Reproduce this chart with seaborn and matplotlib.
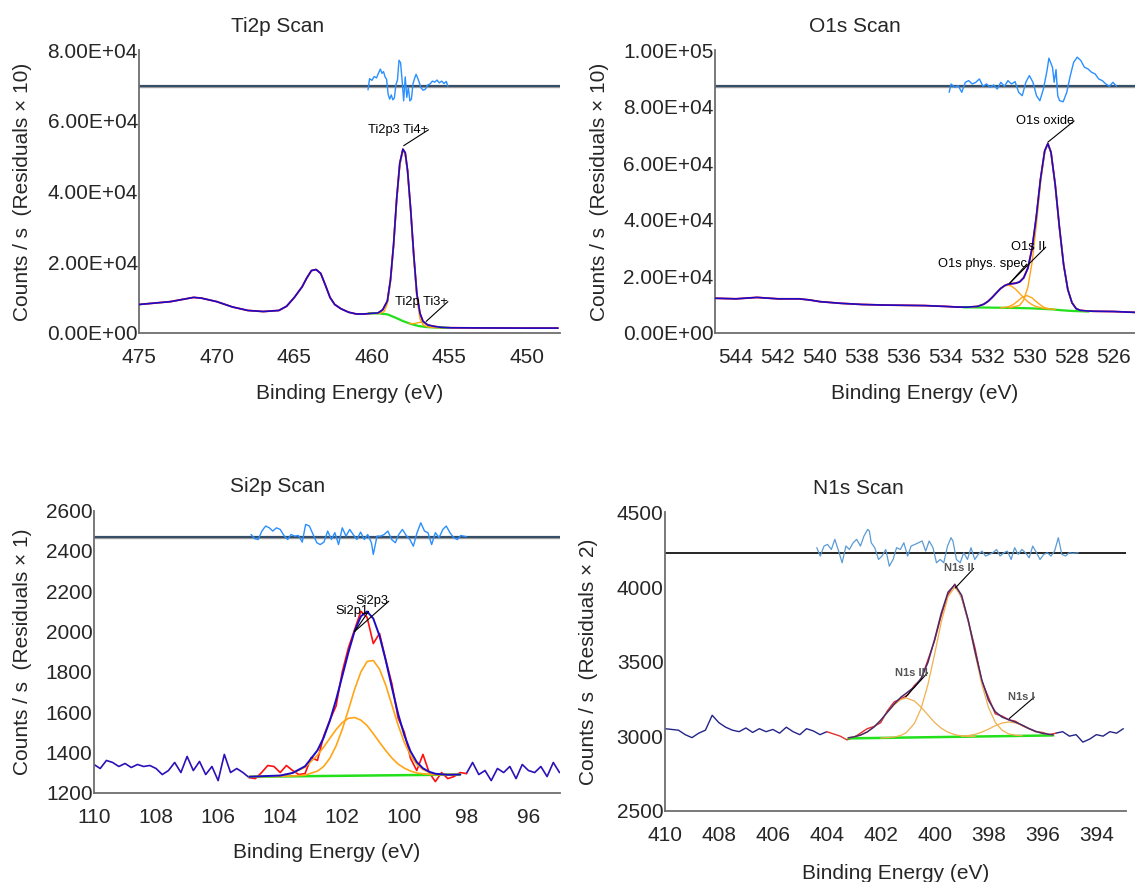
import numpy as np
import matplotlib
matplotlib.use("Agg")
import matplotlib.pyplot as plt
from matplotlib.ticker import MultipleLocator, FuncFormatter
import seaborn as sns

sns.set_theme(style="white")
plt.rcParams['font.family'] = ['Liberation Sans', 'DejaVu Sans']

# ---------------- Ti2p ----------------
ti_be = [475, 474, 473, 472, 471.5, 471, 470, 469, 468, 467, 466, 465.5, 465, 464.5, 464.2, 463.9,
         463.6, 463.3, 463, 462.7, 462.4, 462, 461.5, 461, 460.5, 460, 459.6, 459.3, 459, 458.8,
         458.6, 458.4, 458.2, 458.0, 457.85, 457.7, 457.5, 457.3, 457.1, 456.9, 456.7, 456.4, 456,
         455.5, 455, 453, 450, 448]
ti_cps = [8000, 8400, 8800, 9600, 10000, 9800, 8800, 7300, 6300, 6000, 6300, 7500, 10000, 13000, 15500,
          17600, 17900, 16800, 13500, 10000, 8000, 6800, 5800, 5300, 5300, 5500, 5600, 6500, 9000, 15000,
          25000, 38000, 48000, 52000, 51000, 46000, 35000, 22000, 11000, 5500, 3200, 2200, 1800,
          1500, 1400, 1350, 1300, 1300]
ti_bg_be = [460.2, 459.5, 459.0, 458.5, 458.0, 457.5, 457.0, 456.5, 456.0, 455.5, 455.0]
ti_bg = [5500, 5450, 5200, 4300, 3300, 2500, 1900, 1600, 1480, 1420, 1380]
ti4_be = [460.2, 459.5, 459.2, 459.0, 458.8, 458.6, 458.4, 458.2, 458.0, 457.85, 457.7, 457.5, 457.3,
          457.1, 456.9, 456.7, 456.5, 456.2, 455.8, 455.4, 455.0]
ti4 = [5500, 5450, 6000, 8300, 14200, 24200, 37300, 47300, 51500, 50500, 45500, 34300, 21000,
       9800, 4000, 2200, 1750, 1550, 1450, 1400, 1380]
ti3_be = [457.6, 457.4, 457.2, 457.0, 456.8, 456.6, 456.4, 456.2, 456.0, 455.7]
ti3 = [2700, 2540, 2640, 2860, 2980, 2650, 2110, 1720, 1515, 1460]
ti_res_be = [460.25, 460.15, 460.0, 459.85, 459.7, 459.55, 459.45, 459.35, 459.25, 459.15, 459.05,
             458.95, 458.85, 458.75, 458.65, 458.55, 458.45, 458.35, 458.25, 458.15, 458.05,
             457.95, 457.85, 457.75, 457.65, 457.55, 457.45, 457.35, 457.25, 457.15, 457.05,
             456.95, 456.85, 456.7, 456.55, 456.4, 456.25, 456.1, 455.95, 455.8, 455.65, 455.5,
             455.35, 455.2, 455.1]
ti_res = [-1200, 2000, 1500, 2600, 2200, 3800, 4700, 3500, 4000, 2500, 1800,
          -2500, -3800, -2600, -4000, -3500, 300, 1600, 7200, 6500, 1500,
          -4300, 2500, -3300, -500, -4300, -3800, 500, 2000, 3200, 2200,
          1000, -500, -1300, -1000, 200, 500, 1300, 1000, 1600, 800, 1300, 600, 1200, -200]
ti_res_zero = 70000
ti_xticks = [475, 470, 465, 460, 455, 450]
ti_yticks = [0, 20000, 40000, 60000, 80000]

# ---------------- O1s ----------------
o_be = [545, 544, 543, 542, 541, 540.5, 540, 539, 538, 537, 536, 535, 534, 533.5, 533.0,
        532.5, 532.2, 532.0, 531.8, 531.6, 531.4, 531.2, 531.05, 530.9, 530.7, 530.5, 530.3,
        530.1, 529.9, 529.7, 529.5, 529.3, 529.15, 529.0, 528.8, 528.6, 528.4, 528.2, 528.0,
        527.8, 527.6, 527.3, 527.0, 526.0, 525.0]
o_cps = [12200, 12000, 12500, 12000, 12000, 11600, 11000, 10400, 10000, 9800, 9700, 9600, 9300, 9100,
         9050, 9300, 10100, 11100, 12500, 14100, 15650, 16700, 17150, 17330, 17500, 17960, 19450,
         22900, 29900, 41000, 54400, 64400, 67000, 63900, 52450, 37400, 24150, 15300, 10600,
         8500, 7900, 7700, 7600, 7500, 7200]
o_bg_be = [533.2, 532, 531, 530, 529, 528.5, 528, 527.2]
o_bg = [9000, 8900, 8800, 8650, 8300, 7950, 7700, 7500]
o_ox_be = [531.0, 530.5, 530.3, 530.1, 529.9, 529.7, 529.5, 529.3, 529.15, 529.0, 528.8, 528.6,
           528.4, 528.2, 528.0, 527.8, 527.6, 527.2]
o_ox = [8800, 9630, 11600, 16150, 24950, 38000, 52900, 63950, 66850, 63900, 52450, 37400,
        24150, 15300, 10600, 8580, 7850, 7500]
o_ph_be = [532.8, 532.5, 532.2, 532.0, 531.8, 531.6, 531.4, 531.2, 531.05, 530.9, 530.7, 530.5,
           530.3, 530.1, 529.9, 529.7, 529.4, 529.1]
o_ph = [8950, 9300, 10100, 11100, 12500, 14100, 15550, 16550, 16800, 16550, 15500, 13960,
        12360, 10930, 9920, 9240, 8700, 8400]
o_ii_be = [531.4, 531.2, 531.0, 530.8, 530.6, 530.4, 530.15, 529.9, 529.7, 529.5, 529.3, 529.0, 528.8]
o_ii = [8830, 8950, 9270, 9950, 11090, 12400, 13150, 12350, 10990, 9800, 8820, 8400, 8200]
o_res_be = [533.85, 533.76, 533.59, 533.42, 533.25, 533.08, 532.92, 532.75, 532.58, 532.41,
            532.24, 532.07, 531.90, 531.73, 531.56, 531.39, 531.22, 531.05, 530.88, 530.71,
            530.54, 530.37, 530.20, 530.03, 529.86, 529.69, 529.53, 529.36, 529.19, 529.10,
            528.93, 528.85, 528.76, 528.68, 528.59, 528.42, 528.25, 528.08, 527.92, 527.75,
            527.58, 527.41, 527.24, 527.07, 526.90, 526.73, 526.56, 526.39, 526.22, 526.05, 525.88]
o_res = [-2250, 710, -470, 120, -2250, 1300, 1900, 710, 1300, 2490,
         -120, 710, -470, 360, -1070, 1300, -120, 1900, 710, 1540,
         -2250, -3440, 1300, 3680, 1300, -3440, -5220, -1070, 5460, 9850,
         6640, 1300, 5810, -3440, -5220, -5580, -2250, 3680, 8420, 10200,
         9020, 6640, 6050, 4860, 4270, 2490, 1900, 710, -120, 1300, -120]
o_res_zero = 87400
o_xticks = [544, 542, 540, 538, 536, 534, 532, 530, 528, 526]
o_yticks = [0, 20000, 40000, 60000, 80000, 100000]

# ---------------- Si2p ----------------
si_be = np.round(np.arange(110.0, 94.99, -0.2), 1)   # instrument step 0.2 eV
si_cps = [1340, 1320, 1360, 1350, 1330, 1345, 1325, 1340, 1330, 1335,
          1320, 1290, 1310, 1350, 1300, 1380, 1310, 1355, 1290, 1330,
          1260, 1390, 1300, 1320, 1300, 1275, 1270, 1300, 1335, 1330,
          1300, 1335, 1310, 1290, 1295, 1375, 1360, 1480, 1560, 1630,
          1800, 1920, 2010, 2100, 2070, 1940, 1990, 1860, 1740, 1570,
          1500, 1370, 1310, 1390, 1300, 1255, 1300, 1270, 1280, 1300,
          1295, 1350, 1290, 1310, 1260, 1320, 1300, 1330, 1270, 1340,
          1310, 1300, 1330, 1280, 1350, 1300]
si_fit_be = [105.0, 104.4, 104.0, 103.6, 103.2, 102.8, 102.6, 102.4, 102.2, 102.0, 101.8, 101.6,
             101.4, 101.2, 101.0, 100.8, 100.6, 100.4, 100.2, 100.0, 99.8, 99.6, 99.4, 99.2,
             99.0, 98.6, 98.2]
si_fit = [1279, 1283, 1285, 1298, 1331, 1410, 1473, 1557, 1661, 1778, 1897, 2003, 2075, 2099,
          2064, 1978, 1857, 1721, 1591, 1485, 1405, 1352, 1321, 1304, 1294, 1289, 1290]
si_p3 = [1279, 1281, 1281, 1283, 1287, 1307, 1330, 1371, 1432, 1514, 1612, 1714, 1799, 1851,
         1856, 1813, 1734, 1635, 1535, 1450, 1385, 1341, 1315, 1301, 1293, 1290, 1290]
si_p1 = [1279, 1282, 1285, 1297, 1326, 1386, 1426, 1470, 1513, 1548, 1569, 1573, 1560, 1533,
         1493, 1450, 1409, 1372, 1342, 1322, 1307, 1298, 1294, 1291, 1289, 1289, 1290]
si_bg_be = [105.0, 98.2]
si_bg = [1279, 1290]
si_res_be = [104.94, 104.82, 104.71, 104.59, 104.47, 104.35, 104.24, 104.12, 104.0, 103.88,
             103.76, 103.65, 103.53, 103.41, 103.29, 103.18, 103.06, 102.94, 102.82, 102.71,
             102.59, 102.47, 102.35, 102.24, 102.12, 102.0, 101.88, 101.76, 101.65, 101.53,
             101.41, 101.29, 101.18, 101.06, 101.0, 100.88, 100.76, 100.65, 100.53, 100.41,
             100.29, 100.18, 100.06, 99.94, 99.82, 99.71, 99.59, 99.47, 99.35, 99.24,
             99.12, 99.0, 98.88, 98.76, 98.65, 98.53, 98.41, 98.29, 98.18, 98.0]
si_res = [13, -8, -12, 30, 55, 46, 30, 46, 38, 8,
          -12, 13, 5, 8, -25, 63, 55, 13, -28, -37,
          -25, 30, -12, 22, -37, 46, 5, 38, 13, -12,
          25, -12, 13, -28, -86, 5, 5, 13, 30, -12,
          -28, 13, 38, 8, -12, -45, 22, 71, 30, 22,
          -37, 22, -3, 38, 55, 22, -3, -12, 8, 2]
si_res_zero = 2468
si_xticks = [110, 108, 106, 104, 102, 100, 98, 96]
si_yticks = [1200, 1400, 1600, 1800, 2000, 2200, 2400, 2600]

# ---------------- N1s ----------------
n_be = np.round(np.arange(410.0, 392.99, -0.25), 2)   # instrument step 0.25 eV
n_cps = [3050, 3045, 3040, 3010, 2990, 3020, 3040, 3140, 3090, 3060,
         3040, 3030, 3055, 3025, 3050, 3030, 3045, 3020, 3060, 3030,
         3010, 3050, 3035, 3010, 3030, 3015, 3000, 2975, 2990, 3020,
         3050, 3065, 3090, 3170, 3230, 3250, 3275, 3340, 3380, 3510,
         3640, 3810, 3950, 4020, 3930, 3770, 3590, 3370, 3260, 3150,
         3135, 3110, 3100, 3070, 3050, 3030, 3025, 3010, 3020, 3030,
         3000, 3010, 2960, 2980, 3010, 3000, 3030, 3020, 3050]
n_fit_be = [403.2, 403.0, 402.75, 402.5, 402.25, 402.0, 401.75, 401.5, 401.25, 401.05, 400.75,
            400.5, 400.25, 400.0, 399.75, 399.5, 399.25, 399.0, 398.75, 398.5, 398.25, 398.0,
            397.75, 397.5, 397.25, 397.0, 396.75, 396.5, 396.25, 396.0, 395.75, 395.6]
n_fit = [2989, 2995, 3007, 3028, 3061, 3106, 3161, 3215, 3261, 3288, 3330, 3388, 3493, 3648,
         3826, 3966, 4015, 3946, 3776, 3568, 3378, 3241, 3164, 3128, 3110, 3094, 3074, 3051,
         3032, 3019, 3012, 3009]
n_c3_be = [403.2, 403.0, 402.75, 402.5, 402.25, 402.0, 401.75, 401.5, 401.25, 401.05, 400.75,
           400.5, 400.25, 400.0, 399.75, 399.5, 399.25, 399.0, 398.75, 398.5]
n_c3 = [2989, 2995, 3006, 3028, 3061, 3106, 3160, 3210, 3246, 3256, 3236, 3194, 3143, 3092,
        3053, 3026, 3010, 3002, 2999, 2998]
n_c2_be = [402.0, 401.75, 401.5, 401.25, 401.05, 400.75, 400.5, 400.25, 400.0, 399.75, 399.5,
           399.25, 399.0, 398.75, 398.5, 398.25, 398.0, 397.75, 397.5, 397.25, 397.0, 396.75]
n_c2 = [2988, 2990, 2994, 3005, 3024, 3085, 3186, 3344, 3549, 3767, 3936, 4000, 3937, 3770,
        3553, 3349, 3192, 3093, 3040, 3015, 3006, 3003]
n_c1_be = [399.0, 398.75, 398.5, 398.25, 398.0, 397.75, 397.5, 397.25, 397.0, 396.75, 396.5,
           396.25, 396.0, 395.75, 395.6]
n_c1 = [2998, 3004, 3012, 3027, 3047, 3070, 3088, 3095, 3089, 3073, 3051, 3032, 3019, 3011, 3009]
n_bg_be = [403.2, 395.6]
n_bg = [2985, 3005]
n_res_be = [404.37, 404.24, 404.10, 403.97, 403.83, 403.70, 403.56, 403.43, 403.29, 403.16,
            403.02, 402.89, 402.75, 402.62, 402.48, 402.42, 402.35, 402.22, 402.08, 401.95,
            401.81, 401.68, 401.54, 401.41, 401.27, 401.14, 401.0, 400.87, 400.73, 400.60,
            400.46, 400.33, 400.20, 400.06, 399.93, 399.79, 399.66, 399.52, 399.39, 399.32,
            399.19, 399.05, 398.92, 398.78, 398.65, 398.51, 398.38, 398.24, 398.11, 397.97,
            397.84, 397.70, 397.57, 397.43, 397.30, 397.16, 397.03, 396.90, 396.76, 396.63,
            396.49, 396.36, 396.22, 396.09, 395.95, 395.82, 395.68, 395.55, 395.41, 395.28,
            395.14, 395.01, 394.88, 394.67]
n_res = [34, -22, 45, 56, 22, 90, 11, -67, 45, 22,
         67, 90, 45, 112, 157, 146, 67, 34, -45, -22,
         22, -90, -45, 34, 22, 67, -22, 45, 56, 67,
         79, 11, 79, 34, -67, -45, -67, 45, 101, 79,
         -45, -67, 0, -45, 34, -45, -11, 11, -22, -11,
         0, 22, -22, 0, 11, -45, 34, -11, 22, 0,
         -34, 45, 0, -45, -11, 0, -22, 11, 101, -11,
         -22, 0, -4, 0]
n_res_zero = 4230
n_xticks = [410, 408, 406, 404, 402, 400, 398, 396, 394]
n_yticks = [2500, 3000, 3500, 4000, 4500]

RED, BLUE, ORANGE, GREEN = '#ff1010', '#1a0cc8', '#ffa516', '#22e01a'
RESID, ZERO = '#2a8fff', '#2b4764'

W, H = 1135, 882
fig = plt.figure(figsize=(W / 100, H / 100), dpi=100)


def px_axes(left, top, right, bottom):
    return fig.add_axes([left / W, 1 - bottom / H, (right - left) / W, (bottom - top) / H])


def line(ax, x, y, color, lw, z=2):
    sns.lineplot(x=np.asarray(x, float), y=np.asarray(y, float), ax=ax, color=color,
                 linewidth=lw, estimator=None, sort=False, zorder=z)


def style(ax, xlim, ylim, xticks, yticks, xminor, yminor, ylab, lab_x, sci=False):
    ax.set_xlim(*xlim)
    ax.set_ylim(*ylim)
    ax.set_xticks(xticks)
    ax.set_yticks(yticks)
    ax.xaxis.set_minor_locator(MultipleLocator(xminor))
    ax.yaxis.set_minor_locator(MultipleLocator(yminor))
    if sci:
        ax.yaxis.set_major_formatter(FuncFormatter(lambda v, p: f"{v:.2E}"))
    ax.tick_params(which='both', direction='in', color='#7a7a7a', labelsize=15)
    ax.tick_params(axis='x', pad=11)
    ax.tick_params(axis='y', pad=1)
    ax.tick_params(which='major', length=5, width=1)
    ax.tick_params(which='minor', length=3, width=1)
    for side in ['top', 'right']:
        ax.spines[side].set_visible(False)
    for side in ['left', 'bottom']:
        ax.spines[side].set_color('#6e6e6e')
        ax.spines[side].set_linewidth(1.3)
    ax.set_xlabel("Binding Energy (eV)", fontsize=15)
    ax.set_ylabel(ylab, fontsize=15)
    ax.xaxis.set_label_coords(0.5, -0.18)
    ax.yaxis.set_label_coords(lab_x, 0.5)
    ax.grid(False)


def tag(ax, text, xy, xytext, fs=9.3, color='black', weight='normal'):
    # the leader runs from the peak right through to the end of the label
    ax.annotate(text, xy=xy, xytext=xytext, ha='right', va='center', fontsize=fs,
                color=color, fontweight=weight,
                arrowprops=dict(arrowstyle='-', color='black', lw=0.8, patchA=None,
                                shrinkA=0, shrinkB=0, relpos=(1, 0.5)))


# Ti2p panel
ax = px_axes(139.3, 50.4, 559.5, 332.7)
ax.axhline(ti_res_zero, color='#9a9a9a', lw=2.4, zorder=1)
ax.axhline(ti_res_zero, color=ZERO, lw=1.3, zorder=1.1)
line(ax, ti_res_be, np.array(ti_res) + ti_res_zero, RESID, 1.0)
line(ax, ti_be, ti_cps, RED, 1.3)
line(ax, ti_be, ti_cps, BLUE, 1.2, 3)
line(ax, ti_bg_be, ti_bg, GREEN, 1.6, 2.5)
line(ax, ti4_be, ti4, ORANGE, 1.0, 2.6)
line(ax, ti3_be, ti3, ORANGE, 1.0, 2.6)
tag(ax, "Ti2p3 Ti4+", (457.95, 53000), (456.35, 57500))
tag(ax, "Ti2p Ti3+", (456.5, 3200), (455.1, 8800))
style(ax, (475, 447.9), (0, 80000), ti_xticks, ti_yticks, 2.5, 10000,
      "Counts / s  (Residuals \u00d7 10)", -0.255, sci=True)

# O1s panel
ax = px_axes(715, 50.4, 1135, 332.7)
ax.axhline(o_res_zero, color='#9a9a9a', lw=2.4, zorder=1)
ax.axhline(o_res_zero, color=ZERO, lw=1.3, zorder=1.1)
line(ax, o_res_be, np.array(o_res) + o_res_zero, RESID, 1.0)
line(ax, o_be, o_cps, RED, 1.3)
line(ax, o_be, o_cps, BLUE, 1.2, 3)
line(ax, o_bg_be, o_bg, GREEN, 1.6, 2.5)
line(ax, o_ox_be, o_ox, ORANGE, 1.0, 2.6)
line(ax, o_ph_be, o_ph, ORANGE, 1.0, 2.6)
line(ax, o_ii_be, o_ii, ORANGE, 1.0, 2.6)
tag(ax, "O1s oxide", (529.15, 67500), (527.9, 75000))
tag(ax, "O1s II", (530.97, 17500), (529.25, 30300))
tag(ax, "O1s phys. spec", (530.97, 17500), (530.15, 24300))
style(ax, (545, 525), (0, 100000), o_xticks, o_yticks, 1, 10000,
      "Counts / s  (Residuals \u00d7 10)", -0.252, sci=True)

# Si2p panel
ax = px_axes(94, 510.5, 559.5, 792.7)
si_y = np.array(si_cps, float)
inside = (si_be <= 105.0) & (si_be >= 98.0)
ax.axhline(si_res_zero, color='#9a9a9a', lw=2.4, zorder=1)
ax.axhline(si_res_zero, color=ZERO, lw=1.3, zorder=1.1)
line(ax, si_res_be, np.array(si_res) + si_res_zero, RESID, 1.0)
line(ax, si_be[si_be >= 105.0], si_y[si_be >= 105.0], '#2c10b8', 1.2)
line(ax, si_be[si_be <= 98.0], si_y[si_be <= 98.0], '#2c10b8', 1.2)
line(ax, si_be[inside], si_y[inside], RED, 1.2)
line(ax, si_bg_be, si_bg, GREEN, 1.8, 2.5)
line(ax, si_fit_be, si_p1, ORANGE, 1.2, 2.6)
line(ax, si_fit_be, si_p3, ORANGE, 1.2, 2.6)
line(ax, si_fit_be, si_fit, BLUE, 1.4, 3)
tag(ax, "Si2p1", (101.6, 2000), (101.15, 2100))
tag(ax, "Si2p3", (101.6, 2000), (100.5, 2150))
style(ax, (110, 95), (1200, 2600), si_xticks, si_yticks, 1, 100,
      "Counts / s  (Residuals \u00d7 1)", -0.133)

# N1s panel
ax = px_axes(665, 512.5, 1126, 810.7)
n_y = np.array(n_cps, float)
n_in = (n_be <= 404.0) & (n_be >= 395.5)
ax.axhline(n_res_zero, color='black', lw=1.2, zorder=1)
line(ax, n_res_be, np.array(n_res) + n_res_zero, '#5b9bd5', 0.9)
line(ax, n_be[n_be >= 404.0], n_y[n_be >= 404.0], '#242488', 1.0)
line(ax, n_be[n_be <= 395.5], n_y[n_be <= 395.5], '#242488', 1.0)
line(ax, n_be[n_in], n_y[n_in], '#e03030', 1.0)
line(ax, n_bg_be, n_bg, GREEN, 1.8, 2.5)
line(ax, n_c3_be, n_c3, '#f0b050', 0.9, 2.6)
line(ax, n_c2_be, n_c2, '#f0b050', 0.9, 2.6)
line(ax, n_c1_be, n_c1, '#f0b050', 0.9, 2.6)
line(ax, n_fit_be, n_fit, '#4a2a6a', 1.1, 3)
tag(ax, "N1s II", (399.23, 3994), (398.55, 4125), 8, '#555555', 'bold')
tag(ax, "N1s III", (401.07, 3264), (400.26, 3425), 8, '#555555', 'bold')
tag(ax, "N1s I", (397.23, 3118), (396.3, 3262), 8, '#555555', 'bold')
style(ax, (410, 392.9), (2500, 4500), n_xticks, n_yticks, 1, 250,
      "Counts / s  (Residuals \u00d7 2)", -0.145)

# panel titles, centred over each quarter
for text, x, y in [("Ti2p Scan", 278, 26), ("O1s Scan", 855, 26),
                   ("Si2p Scan", 278, 487), ("N1s Scan", 858, 489)]:
    fig.text(x / W, 1 - y / H, text, ha='center', va='center', fontsize=15)

fig.savefig("out.png", dpi=100)
